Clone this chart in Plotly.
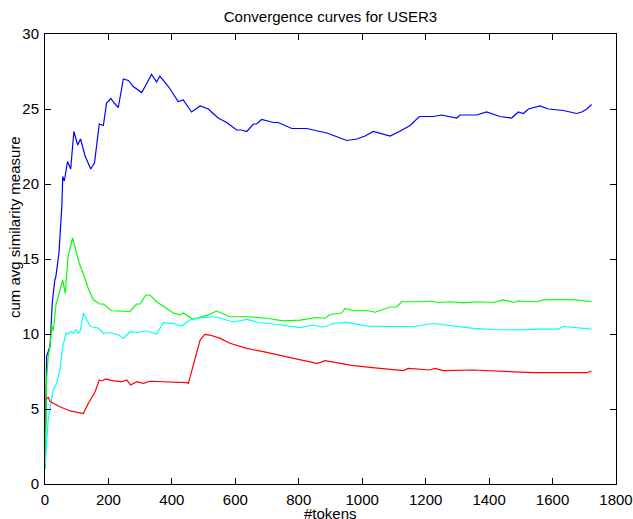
import plotly.graph_objects as go

title_text = "Convergence curves for USER3"
x_label = "#tokens"
y_label = "cum avg similarity measure"
x_ticks = [0, 200, 400, 600, 800, 1000, 1200, 1400, 1600, 1800]
y_ticks = [0, 5, 10, 15, 20, 25, 30]

blue_x = [0, 5, 16, 23, 31, 34, 44, 53, 56, 61, 71, 81, 91, 103, 112, 126, 144, 156, 171, 184,
          194, 208, 218, 231, 247, 263, 278, 305, 318, 336, 352, 362, 389, 420, 436, 462, 489, 515,
          525, 546, 573, 604, 620, 636, 657, 667, 683, 699, 720, 735, 757, 778, 825, 846, 888, 914,
          951, 983, 1009, 1035, 1056, 1088, 1117, 1151, 1180, 1208, 1224, 1250, 1298, 1308, 1361,
          1392, 1434, 1471, 1492, 1508, 1524, 1560, 1587, 1634, 1676, 1692, 1708, 1723]
blue_y = [1.0, 8.5, 9.2, 12.1, 13.6, 13.8, 15.4, 18.5, 20.5, 20.2, 21.5, 21.0, 23.5, 22.6, 23.0, 21.9, 21.0, 21.4, 24.0, 23.9,
          25.4, 25.7, 25.4, 25.1, 27.0, 26.9, 26.5, 26.1, 26.6, 27.3, 26.8, 27.2, 26.5, 25.5, 25.6, 24.8, 25.2, 25.0,
          24.8, 24.4, 24.1, 23.6, 23.6, 23.5, 24.0, 24.0, 24.3, 24.2, 24.1, 24.1, 23.9, 23.7, 23.7, 23.6, 23.4, 23.2,
          22.9, 23.0, 23.2, 23.5, 23.4, 23.2, 23.5, 23.9, 24.5, 24.5, 24.5, 24.6, 24.4, 24.6, 24.6,
          24.8, 24.5, 24.4, 24.8, 24.7, 25.0, 25.2, 25.0, 24.9, 24.7, 24.8, 25.0, 25.3]

green_x = [0, 5, 10, 16, 21, 26, 35, 45, 56, 64, 73, 87, 108, 121, 137, 152, 171, 184, 210, 268,
           289, 300, 318, 331, 352, 404, 426, 436, 467, 515, 541, 583, 646, 699, 751, 804, 856, 883,
           898, 935, 946, 972, 1019, 1040, 1088, 1109, 1124, 1193, 1214, 1240, 1277, 1319, 1361, 1413,
           1445, 1476, 1492, 1550, 1571, 1624, 1676, 1723]
green_y = [1.0, 7.0, 8.5, 9.2, 10.6, 10.2, 12.0, 12.8, 13.6, 12.7, 15.2, 16.4, 14.7, 14.0, 13.0, 12.3, 12.0, 12.0, 11.55, 11.5,
           12.0, 12.0, 12.6, 12.6, 12.15, 11.4, 11.27, 11.4, 10.98, 11.27, 11.53, 11.15, 11.15, 11.05, 10.87, 10.93, 11.1, 11.05,
           11.3, 11.4, 11.7, 11.55, 11.55, 11.45, 11.8, 11.8, 12.15, 12.15, 12.2, 12.1, 12.15, 12.07, 12.15, 12.1,
           12.27, 12.1, 12.2, 12.15, 12.27, 12.3, 12.27, 12.15]

cyan_x = [0, 10, 26, 37, 47, 56, 66, 73, 81, 89, 98, 105, 112, 121, 142, 168, 184, 205, 231, 247,
          268, 289, 320, 352, 373, 404, 431, 457, 473, 536, 594, 636, 678, 730, 804, 846, 877, 909,
          951, 1014, 1088, 1161, 1224, 1298, 1350, 1413, 1492, 1560, 1618, 1634, 1676, 1723]
cyan_y = [1.0, 4.3, 6.3, 6.7, 7.6, 9.15, 10.05, 10.0, 10.15, 10.05, 10.27, 10.05, 10.27, 11.4, 10.5, 10.4, 10.05, 10.1, 9.95, 9.7,
          10.15, 10.1, 10.2, 10.0, 10.75, 10.7, 10.53, 10.93, 11.05, 11.15, 10.8, 10.97, 10.75, 10.65, 10.42, 10.6, 10.45, 10.7,
          10.78, 10.53, 10.5, 10.5, 10.7, 10.53, 10.38, 10.3, 10.27, 10.33, 10.33, 10.5, 10.42, 10.33]

red_x = [3, 10, 16, 47, 79, 110, 121, 137, 158, 171, 179, 192, 215, 242, 258, 270, 289, 310, 331, 447,
         452, 489, 504, 520, 552, 583, 636, 688, 751, 804, 856, 867, 883, 919, 961, 1024, 1130, 1145,
         1214, 1229, 1256, 1350, 1455, 1539, 1613, 1666, 1708, 1723]
red_y = [5.6, 5.8, 5.5, 5.15, 4.87, 4.78, 4.7, 5.4, 6.15, 6.93, 6.87, 7.0, 6.87, 6.82, 6.93, 6.6, 6.82, 6.71, 6.85, 6.76,
         6.71, 9.6, 9.98, 9.93, 9.71, 9.38, 9.04, 8.82, 8.53, 8.31, 8.04, 8.09, 8.22, 8.09, 7.93, 7.78, 7.56, 7.71,
         7.6, 7.71, 7.56, 7.6, 7.49, 7.42, 7.42, 7.44, 7.42, 7.53]

series = [
    (blue_x, blue_y, "#0000FF"),
    (green_x, green_y, "#00FF00"),
    (cyan_x, cyan_y, "#00FFFF"),
    (red_x, red_y, "#FF0000"),
]

fig = go.Figure()
for xs, ys, col in series:
    fig.add_trace(go.Scatter(x=xs, y=ys, mode="lines", line=dict(color=col, width=1.2),
                             showlegend=False, hoverinfo="skip"))

FONT = "Liberation Sans, Arial, Helvetica, sans-serif"
axis_common = dict(
    showgrid=False, zeroline=False, showline=True, linecolor="black", linewidth=1,
    mirror="ticks", ticks="inside", ticklen=6, tickwidth=1, tickcolor="black",
    tickfont=dict(family=FONT, size=15, color="black"), automargin=False,
)
fig.update_xaxes(range=[0, 1800], tickvals=x_ticks, ticktext=[str(v) for v in x_ticks],
                 ticklabelstandoff=2, **axis_common)
fig.update_yaxes(range=[0, 30], tickvals=y_ticks, ticktext=[str(v) for v in y_ticks],
                 ticklabelstandoff=2, **axis_common)

fig.update_layout(
    width=633, height=519,
    margin=dict(l=45, r=17, t=34, b=35, pad=0),
    plot_bgcolor="white", paper_bgcolor="white",
    font=dict(family=FONT, size=15, color="black"),
    title=dict(text=title_text, x=(45 + 571 / 2) / 633, xanchor="center",
               y=1 - 17 / 519, yanchor="middle", font=dict(family=FONT, size=15, color="black")),
    annotations=[
        dict(text=x_label, xref="paper", yref="paper", x=0.5, y=(484 - 513) / 450,
             xanchor="center", yanchor="middle", showarrow=False,
             font=dict(family=FONT, size=15, color="black")),
        dict(text=y_label, xref="paper", yref="paper", x=(14 - 45) / 571, y=(484 - 227) / 450,
             xanchor="center", yanchor="middle", textangle=-90, showarrow=False,
             font=dict(family=FONT, size=15, color="black")),
    ],
)

fig.write_html("out.html", config={"displayModeBar": False},
               post_script="document.body.style.margin='0';document.body.style.padding='0';")
